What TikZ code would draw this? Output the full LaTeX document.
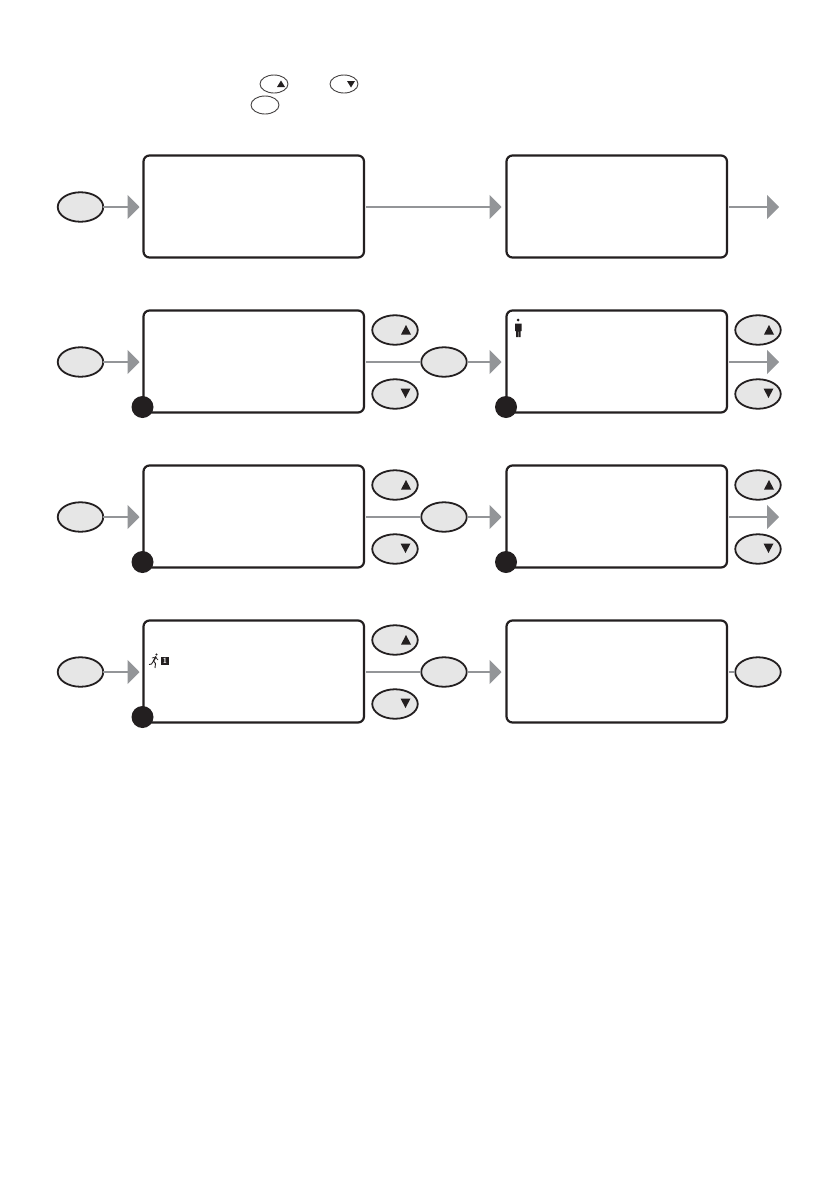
\documentclass[tikz,border=0pt]{standalone}
\usetikzlibrary{shapes.geometric,arrows.meta}
\definecolor{ink}{HTML}{231F20}
\definecolor{btn}{HTML}{E6E6E6}
\definecolor{flow}{HTML}{939598}
\tikzset{
  screen/.style={draw=ink,line width=2.2pt,rounded corners=6pt,fill=white,minimum width=220.5pt,minimum height=102pt,inner sep=0pt,outer sep=0pt},
  key/.style={ellipse,draw=ink,line width=1.8pt,fill=btn,minimum width=45.5pt,minimum height=29.5pt,inner sep=0pt,outer sep=0pt},
  smallkey/.style={ellipse,draw=ink!85,line width=0.9pt,fill=white,minimum width=28pt,minimum height=18pt,inner sep=0pt,outer sep=0pt},
  dot/.style={circle,fill=ink,minimum size=22pt,inner sep=0pt,outer sep=0pt},
  flowline/.style={draw=flow,line width=1.6pt},
  flowarrow/.style={flowline,-{Triangle[length=12pt,width=24pt,fill=flow]}},
  tri/.style={fill=ink,draw=none},
}
\begin{document}
\begin{tikzpicture}[x=1pt,y=-1pt]
\useasboundingbox (0,0) rectangle (839,1191);
\fill[white] (0,0) rectangle (839,1191);
% legend
\node[smallkey] (lgUp) at (274,84) {};
\node[smallkey] (lgDown) at (344,84) {};
\node[smallkey] (lgOk) at (265,105) {};
\fill[tri] (281,80.5) -- (285,87) -- (277,87) -- cycle;
\fill[tri] (351,87.5) -- (355,81) -- (347,81) -- cycle;
% rows
\foreach \r/\y in {1/207,2/362,3/517,4/672}{
  \node[screen] (L\r) at (253.75,\y-0.5) {};
  \node[screen] (R\r) at (616.75,\y-0.5) {};
  \node[key] (in\r) at (80.5,\y) {};
  \coordinate (Lw\r) at (143.5,\y);
  \coordinate (Le\r) at (364,\y);
  \coordinate (Rw\r) at (506.5,\y);
  \coordinate (Re\r) at (727,\y);
  \draw[flowarrow,shorten >=4pt] (in\r) -- (Lw\r);
}
% row 1
\coordinate (end1) at (779,207);
\draw[flowarrow,shorten >=5pt,shorten <=2pt] (Le1) -- (Rw1);
\draw[flowarrow,shorten <=2pt] (Re1) -- (end1);
% rows 2, 3, 4: side keys, middle key
\foreach \r/\y in {2/362,3/517,4/672}{
  \node[key] (mid\r) at (444,\y) {};
  \node[key] (upL\r) at (395,\y-32) {};
  \node[key] (downL\r) at (395,\y+32) {};
  \fill[tri] (406,\y-37) -- (411,\y-27.5) -- (401,\y-27.5) -- cycle;
  \fill[tri] (405.5,\y+36) -- (410.5,\y+26.5) -- (400.5,\y+26.5) -- cycle;
  \draw[flowline,shorten <=2pt] (Le\r) -- (mid\r);
  \draw[flowarrow,shorten >=5pt] (mid\r) -- (Rw\r);
  \node[dot] (dotL\r) at (142.5,\y+45) {};
}
\foreach \r/\y in {2/362,3/517}{
  \node[key] (upR\r) at (758,\y-32) {};
  \node[key] (downR\r) at (758,\y+32) {};
  \fill[tri] (769,\y-37) -- (774,\y-27.5) -- (764,\y-27.5) -- cycle;
  \fill[tri] (768.5,\y+36) -- (773.5,\y+26.5) -- (763.5,\y+26.5) -- cycle;
  \coordinate (end\r) at (779,\y);
  \draw[flowarrow,shorten <=2pt] (Re\r) -- (end\r);
  \node[dot] (dotR\r) at (506,\y+45) {};
}
% row 4 end key
\node[key] (last) at (758,672) {};
\draw[flowline,shorten <=2pt] (Re4) -- (last);
% person icon
\fill[ink] (518,320) circle (1.5pt);
\fill[ink] (515,323.5) -- (521.7,323.5) -- (521.7,331) -- (520.7,331) -- (520.7,337) -- (518.7,337) -- (518.7,331.5) -- (518,331.5) -- (518,337) -- (516,337) -- (516,331) -- (515,331) -- cycle;
% runner icon
\fill[ink] (156.5,654.5) circle (1.2pt);
\draw[ink,line width=1.4pt] (156,656.5) -- (153.5,661);
\draw[ink,line width=0.9pt] (153.5,661) -- (151.5,664) -- (149,664.5);
\draw[ink,line width=0.9pt] (153.5,661) -- (155.5,663.5) -- (155,668);
\draw[ink,line width=0.7pt] (152,658) -- (155.5,657) -- (158,660);
\node[fill=ink,text=white,minimum width=8pt,minimum height=8pt,inner sep=0pt,font=\sffamily\bfseries\fontsize{7.5}{7.5}\selectfont] (lane) at (165,661) {1};
\end{tikzpicture}
\end{document}
